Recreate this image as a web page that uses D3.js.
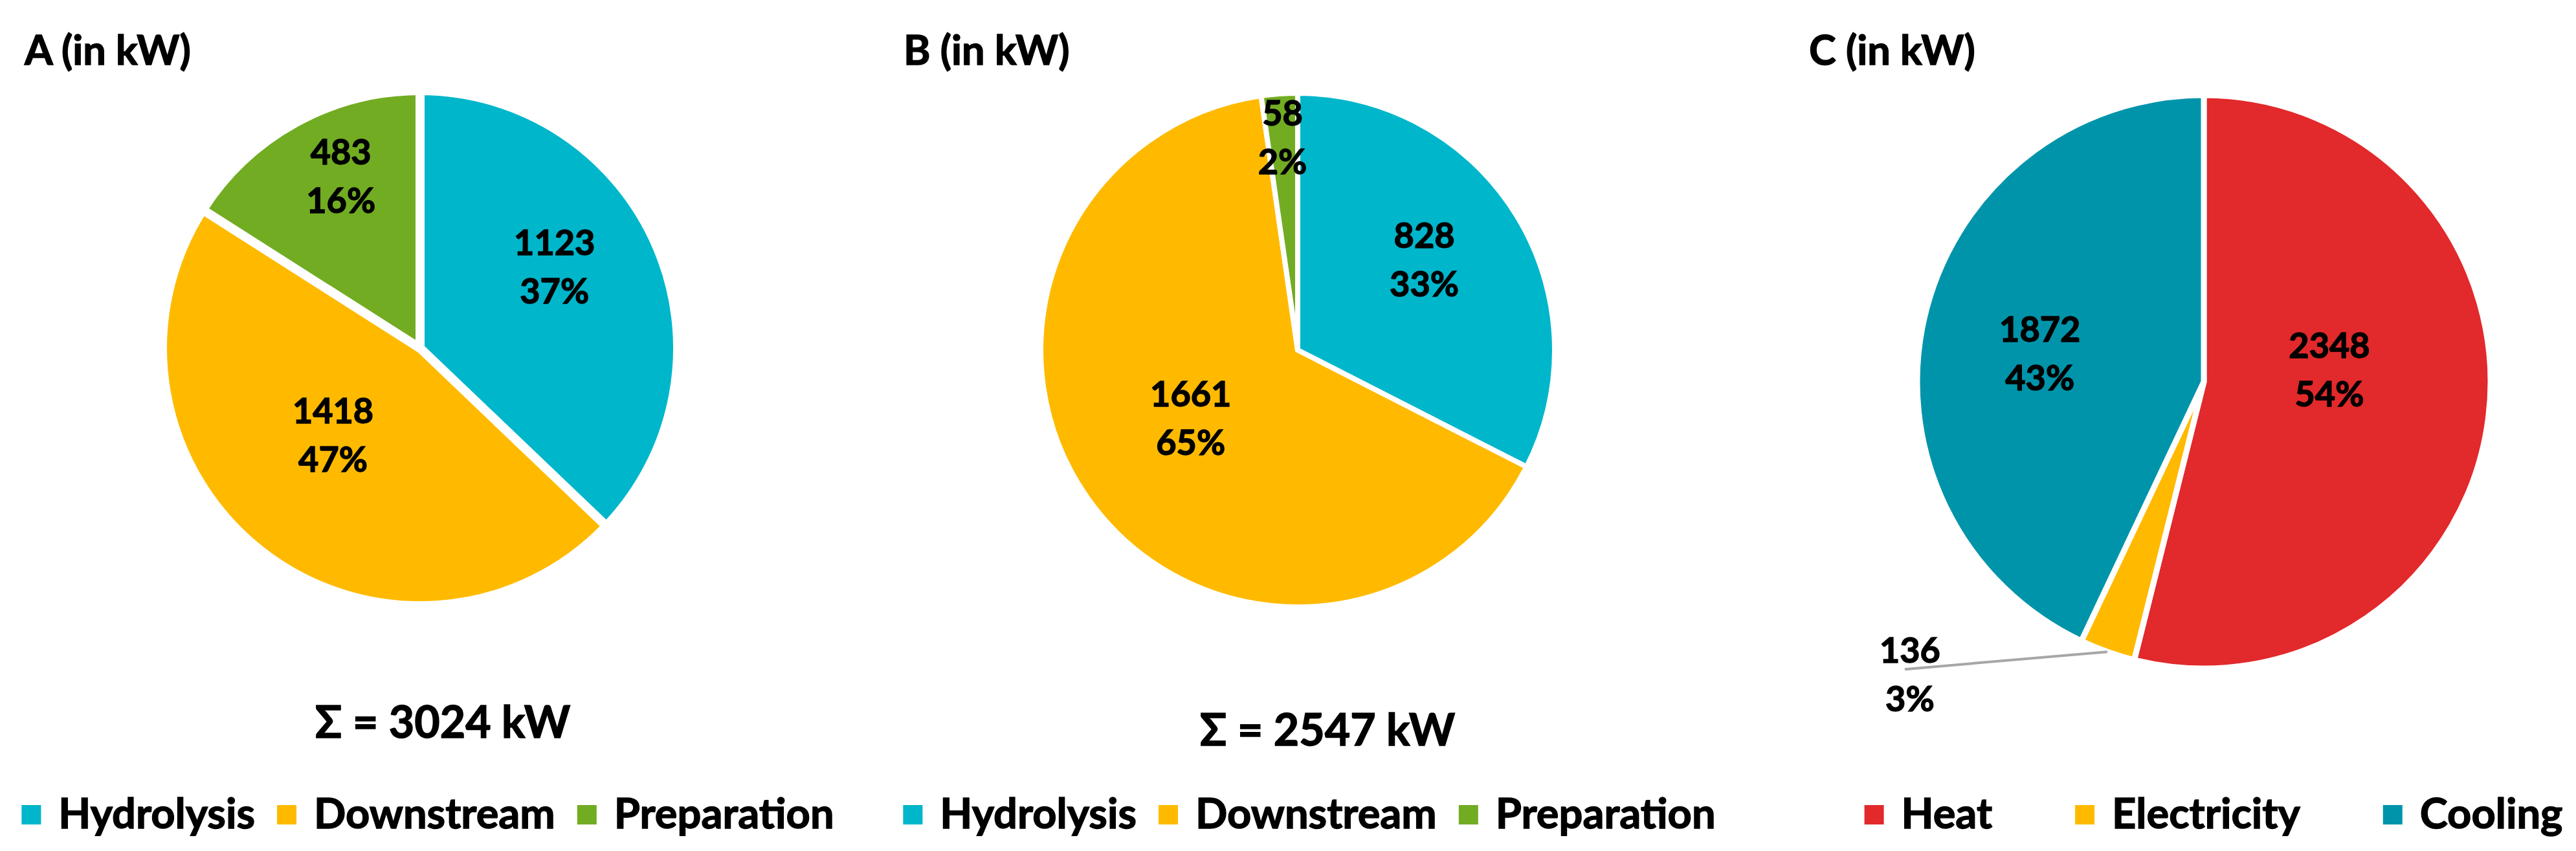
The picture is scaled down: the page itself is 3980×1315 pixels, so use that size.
<!DOCTYPE html>
<html>
<head>
<meta charset="utf-8">
<script src="https://cdn.jsdelivr.net/npm/d3@7"></script>
<style>
  body { margin: 0; background: #fff; }
  text { font-family: Lato, "Open Sans", sans-serif; font-weight: 700; fill: #000;
         stroke: #000; stroke-width: 1.4px; paint-order: stroke; }
</style>
</head>
<body>
<div id="chart"></div>
<script>
// values (kW)
const titles = ["A (in kW)", "B (in kW)", "C (in kW)"];
const categoriesAB = ["Hydrolysis", "Downstream", "Preparation"];
const categoriesC = ["Heat", "Electricity", "Cooling"];
const valuesA = [1123, 1418, 483];
const valuesB = [828, 1661, 58];
const valuesC = [2348, 136, 1872];
const colorsAB = ["#00B6CB", "#FFBA00", "#72AC22"];
const colorsC = ["#E2292B", "#FFBA00", "#0094AA"];

const width = 3980, height = 1315;

// layout of the three panels
// labelR: distance of the label from the centre (share of radius),
// labelShift: nudge of the label angle in degrees (Excel "best fit")
const panels = [
    { title: titles[0], cats: categoriesAB, values: valuesA, colors: colorsAB,
      cx: 649, cy: 538, r: 398, stroke: 14,
      labelR: [0.61, 0.477, 0.734], labelShift: [-8, 7, 4],
      titleX: 38, sumX: 684, sumY: 1140, legendCx: 661, legendGap: 34 },
    { title: titles[1], cats: categoriesAB, values: valuesB, colors: colorsAB,
      cx: 2005, cy: 541, r: 397, stroke: 8,
      labelR: [0.605, 0.494, 0.83], labelShift: [-4, 3, 0],
      titleX: 1396, sumX: 2051, sumY: 1152, legendCx: 2023, legendGap: 34 },
    { title: titles[2], cats: categoriesC, values: valuesC, colors: colorsC,
      cx: 3405, cy: 590, r: 443, stroke: 9,
      labelR: [0.44, null, 0.58], labelShift: [-12.6, 0, -3],
      outside: { 1: [-305, 35] },
      titleX: 2795, sumX: null, legendCx: 3420, legendGap: 128 }
];

const titleY = 100, legendY = 1280, lineGap = 75;
const pct = d3.format(".0%");
const rad = Math.PI / 180;

const svg = d3.select("#chart").append("svg")
    .attr("width", width)
    .attr("height", height);

panels.forEach(function(p) {
    const total = d3.sum(p.values);
    const pie = d3.pie().sort(null).value(function(d) { return d; });
    const arcs = pie(p.values);
    const arc = d3.arc().innerRadius(0).outerRadius(p.r);

    const g = svg.append("g");

    // title
    g.append("text")
        .attr("x", p.titleX)
        .attr("y", titleY)
        .attr("font-size", 63)
        .text(p.title);

    const pieG = g.append("g")
        .attr("transform", "translate(" + p.cx + "," + p.cy + ")");

    pieG.selectAll("path")
        .data(arcs)
        .enter().append("path")
        .attr("d", arc)
        .attr("fill", function(d, i) { return p.colors[i]; })
        .attr("stroke", "#fff")
        .attr("stroke-width", p.stroke)
        .attr("stroke-linejoin", "miter");

    // data labels: value + percentage
    arcs.forEach(function(d, i) {
        const mid = (d.startAngle + d.endAngle) / 2;
        let lx, ly;
        if (p.outside && p.outside[i]) {
            const ax = Math.sin(mid) * p.r, ay = -Math.cos(mid) * p.r;
            lx = ax + p.outside[i][0];
            ly = ay + p.outside[i][1];
            pieG.append("line")
                .attr("x1", ax).attr("y1", ay)
                .attr("x2", lx - 8).attr("y2", ly - 8)
                .attr("stroke", "#A6A6A6")
                .attr("stroke-width", 4);
        } else {
            const a = mid + p.labelShift[i] * rad;
            lx = Math.sin(a) * p.r * p.labelR[i];
            ly = -Math.cos(a) * p.r * p.labelR[i];
        }
        const y0 = ly - (lineGap - 38) / 2;
        const t = pieG.append("text")
            .attr("text-anchor", "middle")
            .attr("font-size", 54);
        t.append("tspan").attr("x", lx).attr("y", y0).text(d.data);
        t.append("tspan").attr("x", lx).attr("y", y0 + lineGap).text(pct(d.data / total));
    });

    // sum under the pie
    if (p.sumX !== null) {
        g.append("text")
            .attr("x", p.sumX)
            .attr("y", p.sumY)
            .attr("text-anchor", "middle")
            .attr("font-size", 68)
            .text("\u03A3 = " + total + " kW");
    }

    // legend, packed and centred
    const leg = g.append("g");
    const items = leg.selectAll("g")
        .data(p.cats)
        .enter().append("g");
    items.append("rect")
        .attr("width", 30)
        .attr("height", 30)
        .attr("y", legendY - 36)
        .attr("fill", function(d, i) { return p.colors[i]; });
    items.append("text")
        .attr("x", 57)
        .attr("y", legendY)
        .attr("font-size", 65)
        .text(function(d) { return d; });

    let x = 0;
    const offsets = [];
    items.each(function() {
        offsets.push(x);
        x += 57 + d3.select(this).select("text").node().getComputedTextLength() + p.legendGap;
    });
    const legW = x - p.legendGap;
    const start = p.legendCx - legW / 2;
    items.attr("transform", function(d, i) { return "translate(" + (start + offsets[i]) + ",0)"; });
});
</script>
</body>
</html>
